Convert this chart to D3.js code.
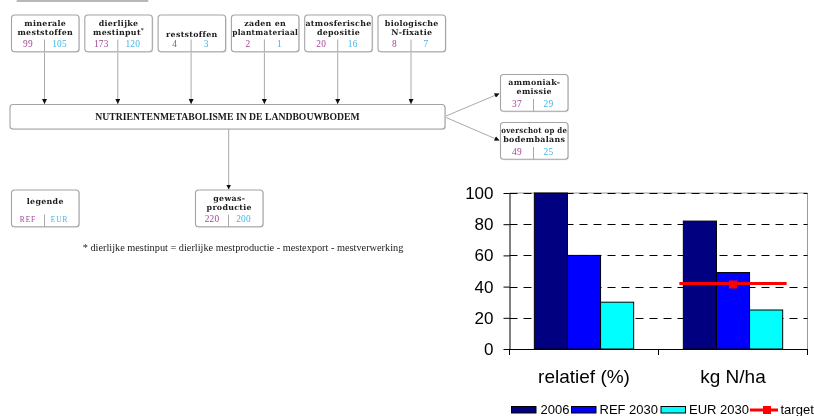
<!DOCTYPE html>
<html>
<head>
<meta charset="utf-8">
<script src="https://cdn.jsdelivr.net/npm/d3@7"></script>
<style>
  body { margin: 0; background: #fff; }
  svg { display: block; }
</style>
</head>
<body>
<svg id="fig" width="814" height="416"></svg>
<script>
// ---------- Nitrogen balance diagram data ----------
const inputTitles = [["minerale", "meststoffen"], ["dierlijke", "mestinput*"], ["reststoffen"],
                     ["zaden en", "plantmateriaal"], ["atmosferische", "depositie"], ["biologische", "N-fixatie"]];
const inputREF = [99, 173, 4, 2, 20, 8];
const inputEUR = [105, 120, 3, 1, 16, 7];
const coreLabel = "NUTRIENTENMETABOLISME IN DE LANDBOUWBODEM";
const outputTitles = [["ammoniak-", "emissie"], ["overschot op de", "bodembalans"]];
const outputREF = [37, 49];
const outputEUR = [29, 25];
const cropTitle = ["gewas-", "productie"];
const cropREF = 220;
const cropEUR = 200;
const keyTitle = "legende";
const keyLabels = ["REF", "EUR"];
const footnote = "* dierlijke mestinput = dierlijke mestproductie - mestexport - mestverwerking";

// ---------- Bar chart data ----------
const categories = ["relatief (%)", "kg N/ha"];
const seriesNames = ["2006", "REF 2030", "EUR 2030"];
const values2006 = [100, 82];
const valuesREF2030 = [60, 49];
const valuesEUR2030 = [30, 25];
const targetValues = [null, 42];
const yTicks = [0, 20, 40, 60, 80, 100];
const targetName = "target";

const svg = d3.select("#fig");
const REFC = "#a5469a", EURC = "#3fb4e6", LINEC = "#a9a9a9";
const SERIF = "'Liberation Serif', 'Times New Roman', serif";
const TITLE = "'DejaVu Serif', 'Liberation Serif', serif";
const SANS = "'Liberation Sans', Arial, Helvetica, sans-serif";

const defs = svg.append("defs");
defs.append("filter").attr("id", "soft")
  .append("feGaussianBlur").attr("stdDeviation", 0.4);
defs.append("marker").attr("id", "arrow")
  .attr("viewBox", "0 0 10 10").attr("refX", 10).attr("refY", 5)
  .attr("markerUnits", "userSpaceOnUse").attr("markerWidth", 5).attr("markerHeight", 5)
  .attr("orient", "auto")
  .append("path").attr("d", "M0,0 L10,5 L0,10 z").attr("fill", "#111");

// ================= diagram =================
const dg = svg.append("g").attr("filter", "url(#soft)");

dg.append("rect").attr("x", 16.7).attr("y", 0).attr("width", 131.6).attr("height", 2).attr("fill", "#b8b8b8");

const BW = 67.5, BH = 36.8;

// draws a rounded box with a title and a REF | EUR pair
function valueBox(x, y, title, ref, eur, opts = {}) {
  const g = dg.append("g").attr("transform", `translate(${x},${y})`);
  g.append("rect").attr("x", 1).attr("y", 1).attr("width", BW).attr("height", BH).attr("rx", 3)
    .attr("fill", "#e4e4e4");
  g.append("rect").attr("width", BW).attr("height", BH).attr("rx", 3)
    .attr("fill", "#fff").attr("stroke", "#a4a4a4").attr("stroke-width", 1.1);
  const base = title.length === 1 ? (opts.single || 20) : 10.6;
  title.forEach((line, i) => {
    const t = g.append("text").attr("text-anchor", "middle").attr("font-family", TITLE)
      .attr("font-weight", "bold").attr("font-size", 7.9).attr("letter-spacing", 0.3)
      .attr("fill", "#1a1a1a").attr("x", BW / 2).attr("y", base + i * 8.9);
    if (line.endsWith("*")) {
      t.append("tspan").text(line.slice(0, -1));
      t.append("tspan").attr("font-size", 5.5).attr("dy", -2.5).text("*");
    } else t.text(line);
    const w = t.node().getComputedTextLength();
    if (w > BW - 1.5) t.attr("textLength", BW - 1.5).attr("lengthAdjust", "spacingAndGlyphs");
  });
  g.append("line").attr("x1", 33).attr("x2", 33).attr("y1", 24.5).attr("y2", BH).attr("stroke", LINEC);
  const fs = opts.numSize || 9.4;
  const ls = opts.numSpacing || 0.2;
  g.append("text").attr("x", 16.5).attr("y", 32).attr("text-anchor", "middle").attr("letter-spacing", ls)
    .attr("font-family", SERIF).attr("font-size", fs).attr("fill", REFC).text(ref);
  g.append("text").attr("x", 48).attr("y", 32).attr("text-anchor", "middle").attr("letter-spacing", ls)
    .attr("font-family", SERIF).attr("font-size", fs).attr("fill", EURC).text(eur);
  return g;
}

// inputs along the top
const inX = d3.scaleLinear().domain([0, 1]).range([11.5, 84.8]);
inputTitles.forEach((title, i) => {
  const x = inX(i);
  dg.append("line").attr("x1", x + 33).attr("x2", x + 33).attr("y1", 15 + BH).attr("y2", 104)
    .attr("stroke", LINEC).attr("marker-end", "url(#arrow)");
  valueBox(x, 15, title, inputREF[i], inputEUR[i], { single: 21.5 });
});

// core box
dg.append("rect").attr("x", 11).attr("y", 105.5).attr("width", 435).attr("height", 24.5).attr("rx", 3)
  .attr("fill", "#e4e4e4");
dg.append("rect").attr("x", 10).attr("y", 104.5).attr("width", 435).attr("height", 24.5).attr("rx", 3)
  .attr("fill", "#fff").attr("stroke", "#a4a4a4").attr("stroke-width", 1.1);
dg.append("text").attr("x", 227.5).attr("y", 120.3).attr("text-anchor", "middle")
  .attr("font-family", SERIF).attr("font-weight", "bold").attr("font-size", 9.7).attr("fill", "#1a1a1a")
  .text(coreLabel);

// outputs on the right
const outY = [74.5, 122.5];
const outTip = [93.5, 140.5];
outputTitles.forEach((title, i) => {
  dg.append("line").attr("x1", 446).attr("y1", 116 + i * 1.5).attr("x2", 499.5).attr("y2", outTip[i])
    .attr("stroke", LINEC).attr("marker-end", "url(#arrow)");
  valueBox(500.5, outY[i], title, outputREF[i], outputEUR[i]);
});

// crop production below
dg.append("line").attr("x1", 228.7).attr("x2", 228.7).attr("y1", 129).attr("y2", 189.5)
  .attr("stroke", LINEC).attr("marker-end", "url(#arrow)");
valueBox(195.5, 190, cropTitle, cropREF, cropEUR);

// key box
valueBox(11.5, 190, [keyTitle], keyLabels[0], keyLabels[1], { single: 14, numSize: 7.4, numSpacing: 0.9 });

dg.append("text").attr("x", 82.7).attr("y", 250.5).attr("font-family", SERIF).attr("font-size", 10.3)
  .attr("fill", "#222").text(footnote);

// ================= bar chart =================
const cg = svg.append("g");
const plotL = 509.5, plotR = 807.5, plotT = 193, plotB = 349;

const x0 = d3.scaleBand().domain(categories).range([plotL, plotR]).paddingInner(0).paddingOuter(0);
const x1 = d3.scaleBand().domain(seriesNames).range([0, x0.bandwidth()]).paddingInner(0).paddingOuter(0.75);
const y = d3.scaleLinear().domain([0, 100]).range([plotB, plotT]);
const color = d3.scaleOrdinal().domain(seriesNames).range(["#000080", "#0000ff", "#00ffff"]);

const seriesValues = [values2006, valuesREF2030, valuesEUR2030];

// plot frame (top and right edges)
cg.append("path").attr("d", `M${plotL},${plotT}H${plotR}V${plotB}`).attr("fill", "none")
  .attr("stroke", "#9a9a9a").attr("stroke-width", 1);

// dashed gridlines
cg.append("g").selectAll("line").data(yTicks.filter(d => d > 0)).join("line")
  .attr("x1", plotL).attr("x2", plotR).attr("y1", d => Math.round(y(d)) + 0.5).attr("y2", d => Math.round(y(d)) + 0.5)
  .attr("stroke", "#000").attr("stroke-dasharray", "8,6");

// bars
const groups = cg.append("g").selectAll("g").data(categories).join("g")
  .attr("transform", d => `translate(${x0(d)},0)`);
groups.selectAll("rect").data((c, ci) => seriesNames.map((s, si) => ({ s, v: seriesValues[si][ci] }))).join("rect")
  .attr("x", d => x1(d.s)).attr("width", x1.bandwidth())
  .attr("y", d => y(d.v)).attr("height", d => y(0) - y(d.v))
  .attr("fill", d => color(d.s)).attr("stroke", "#000").attr("stroke-width", 1);

// target line with its marker
categories.forEach((c, i) => {
  const v = targetValues[i];
  if (v == null) return;
  const cx = x0(c) + x0.bandwidth() / 2;
  const half = x0.bandwidth() * 0.36;
  cg.append("line").attr("x1", cx - half).attr("x2", cx + half).attr("y1", y(v)).attr("y2", y(v))
    .attr("stroke", "#ff0000").attr("stroke-width", 3);
  cg.append("rect").attr("x", cx - 4).attr("y", y(v) - 4 + 1).attr("width", 8).attr("height", 8).attr("fill", "#ff0000");
});

// y axis
const yAxis = cg.append("g").attr("transform", `translate(${plotL},0)`)
  .call(d3.axisLeft(y).tickValues(yTicks).tickSize(6).tickSizeOuter(0).tickPadding(10));
yAxis.select(".domain").attr("stroke", "#000");
yAxis.selectAll(".tick line").attr("stroke", "#000");
yAxis.selectAll("text").attr("font-family", SANS).attr("font-size", 17).attr("fill", "#000");

// x axis: boundary ticks and centred category labels
const xAxis = cg.append("g").attr("transform", `translate(0,${plotB})`)
  .call(d3.axisBottom(x0).tickSize(0).tickPadding(20.5));
xAxis.select(".domain").attr("stroke", "#000");
xAxis.selectAll("text").attr("font-family", SANS).attr("font-size", 19).attr("fill", "#000");
const bounds = categories.map(c => x0(c)).concat([x0.range()[1]]);
cg.append("g").selectAll("line").data(bounds).join("line")
  .attr("x1", d => d).attr("x2", d => d).attr("y1", plotB).attr("y2", plotB + 6).attr("stroke", "#000");

// legend
const lg = cg.append("g").attr("font-family", SANS).attr("font-size", 13);
const swatchX = [511.5, 571.5, 661];
const labelX = [540.5, 599.5, 689];
seriesNames.forEach((s, i) => {
  lg.append("rect").attr("x", swatchX[i]).attr("y", 406.5).attr("width", 24.5).attr("height", 6.5)
    .attr("fill", color(s)).attr("stroke", "#000").attr("stroke-width", 1);
  lg.append("text").attr("x", labelX[i]).attr("y", 413.5).text(s);
});
lg.append("line").attr("x1", 750).attr("x2", 778).attr("y1", 410).attr("y2", 410)
  .attr("stroke", "#ff0000").attr("stroke-width", 3);
lg.append("rect").attr("x", 763).attr("y", 406).attr("width", 8).attr("height", 8).attr("fill", "#ff0000");
lg.append("text").attr("x", 780.5).attr("y", 413.5).text(targetName);
</script>
</body>
</html>
